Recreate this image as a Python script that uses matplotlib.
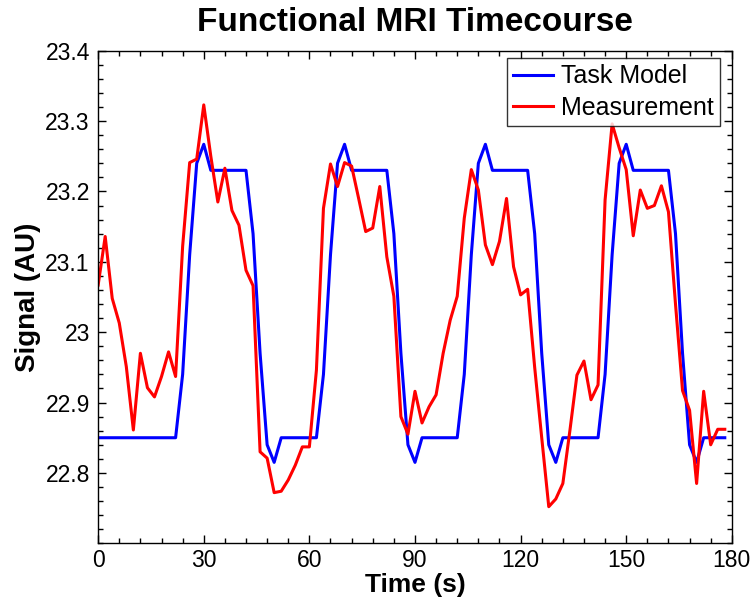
import matplotlib
matplotlib.use("Agg")
import matplotlib.pyplot as plt
from matplotlib.ticker import MultipleLocator

plt.rcParams['font.family'] = ['Liberation Sans', 'DejaVu Sans']

time_s = list(range(0, 180, 2))

task_model = [
    22.85, 22.85, 22.85, 22.85, 22.85, 22.85, 22.85, 22.85, 22.85, 22.85, 22.85, 22.85,
    22.94, 23.11, 23.24, 23.267, 23.23, 23.23, 23.23, 23.23, 23.23, 23.23,
    23.14, 22.97, 22.84, 22.815, 22.85, 22.85, 22.85, 22.85, 22.85, 22.85,
    22.94, 23.11, 23.24, 23.267, 23.23, 23.23, 23.23, 23.23, 23.23, 23.23,
    23.14, 22.97, 22.84, 22.815, 22.85, 22.85, 22.85, 22.85, 22.85, 22.85,
    22.94, 23.11, 23.24, 23.267, 23.23, 23.23, 23.23, 23.23, 23.23, 23.23,
    23.14, 22.97, 22.84, 22.815, 22.85, 22.85, 22.85, 22.85, 22.85, 22.85,
    22.94, 23.11, 23.24, 23.267, 23.23, 23.23, 23.23, 23.23, 23.23, 23.23,
    23.14, 22.97, 22.84, 22.815, 22.85, 22.85, 22.85, 22.85,
]

measurement = [
    23.067, 23.136, 23.048, 23.013, 22.951, 22.861, 22.970, 22.921, 22.908, 22.937,
    22.972, 22.937, 23.122, 23.241, 23.246, 23.323, 23.250, 23.185, 23.233, 23.173,
    23.152, 23.088, 23.066, 22.830, 22.821, 22.772, 22.774, 22.790, 22.811, 22.837,
    22.837, 22.946, 23.176, 23.239, 23.207, 23.241, 23.236, 23.190, 23.143, 23.148,
    23.207, 23.107, 23.051, 22.880, 22.855, 22.916, 22.871, 22.894, 22.911, 22.970,
    23.017, 23.051, 23.162, 23.231, 23.202, 23.124, 23.096, 23.129, 23.190, 23.093,
    23.053, 23.061, 22.950, 22.850, 22.752, 22.763, 22.785, 22.860, 22.939, 22.959,
    22.904, 22.925, 23.188, 23.296, 23.262, 23.231, 23.137, 23.202, 23.176, 23.180,
    23.208, 23.171, 23.040, 22.917, 22.889, 22.785, 22.916, 22.840, 22.862, 22.862,
]

x_ticks = [0, 30, 60, 90, 120, 150, 180]
y_ticks = [22.8, 22.9, 23.0, 23.1, 23.2, 23.3, 23.4]
y_tick_labels = ['22.8', '22.9', '23', '23.1', '23.2', '23.3', '23.4']

fig = plt.figure(figsize=(7.55, 6.05), dpi=100)
ax = fig.add_axes([0.130, 0.102, 0.8393, 0.8142])

ax.plot(time_s, task_model, color='#0000ff', lw=2.2, label='Task Model')
ax.plot(time_s, measurement, color='#ff0000', lw=2.2, label='Measurement')

ax.set_xlim(0, 180)
ax.set_ylim(22.7, 23.4)
ax.set_xticks(x_ticks)
ax.set_yticks(y_ticks)
ax.set_yticklabels(y_tick_labels)
ax.xaxis.set_minor_locator(MultipleLocator(6))
ax.yaxis.set_minor_locator(MultipleLocator(0.02))
ax.tick_params(which='both', direction='in', top=True, right=True, labelsize=16.5, width=1)
ax.tick_params(which='major', length=6)
ax.tick_params(which='minor', length=3.5)
ax.tick_params(axis='x', pad=4)
ax.tick_params(axis='y', pad=6)
for s in ax.spines.values():
    s.set_linewidth(1)

ax.set_title('Functional MRI Timecourse', fontsize=24, fontweight='bold', pad=14)
ax.set_xlabel('Time (s)', fontsize=19, fontweight='bold', labelpad=1)
ax.set_ylabel('Signal (AU)', fontsize=20, fontweight='bold', labelpad=3)

leg = ax.legend(loc='upper right', bbox_to_anchor=(0.981, 0.985), fontsize=18,
                frameon=True, fancybox=False, edgecolor='black', handlelength=1.6,
                borderaxespad=0, handletextpad=0.3, borderpad=0.25, labelspacing=0.3)
leg.get_frame().set_linewidth(1)

fig.savefig('out.png', dpi=100)
